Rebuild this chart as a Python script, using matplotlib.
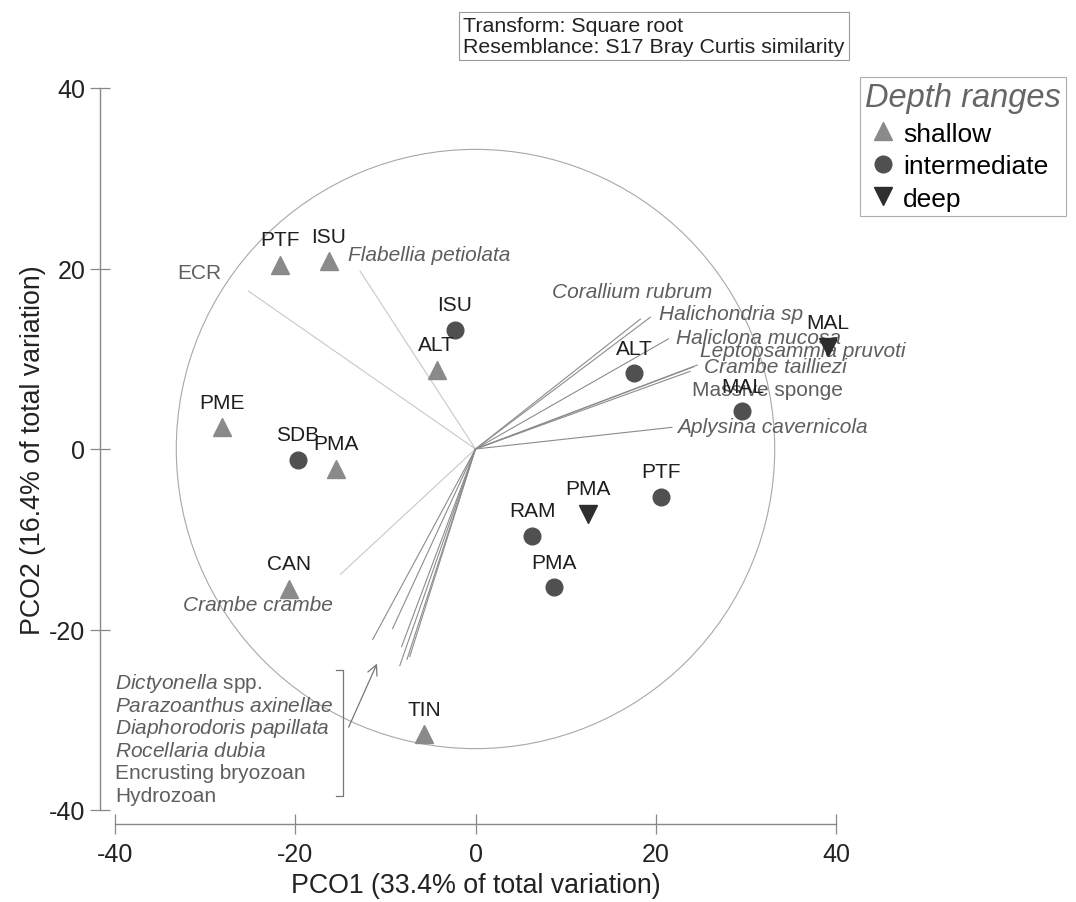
import matplotlib
matplotlib.use('Agg')
import matplotlib.pyplot as plt
from matplotlib.patches import Circle
from matplotlib.lines import Line2D

plt.rcParams['font.family'] = ['Liberation Sans', 'DejaVu Sans']
plt.rcParams['mathtext.fontset'] = 'custom'
plt.rcParams['mathtext.rm'] = 'Liberation Sans'
plt.rcParams['mathtext.it'] = 'Liberation Sans:italic'
plt.rcParams['axes.unicode_minus'] = False

# sites (PCO1, PCO2) by depth range
shallow_names = ['PTF', 'ISU', 'ALT', 'PME', 'PMA', 'CAN', 'TIN']
shallow_x = [-21.7, -16.3, -4.3, -28.1, -15.5, -20.7, -5.7]
shallow_y = [20.4, 20.8, 8.8, 2.4, -2.2, -15.5, -31.6]

inter_names = ['ISU', 'SDB', 'ALT', 'MAL', 'PTF', 'RAM', 'PMA']
inter_x = [-2.3, -19.7, 17.6, 29.6, 20.6, 6.3, 8.7]
inter_y = [13.2, -1.2, 8.4, 4.2, -5.3, -9.6, -15.3]

deep_names = ['MAL', 'PMA']
deep_x = [39.1, 12.5]
deep_y = [11.3, -7.2]

# species vectors (end points) and label anchors
vec_x = [-25.2, -12.8, 18.3, 19.4, 21.4, 24.6, 24.2, 23.8, 21.8, -15.0,
         -11.4, -9.2, -8.2, -8.4, -7.6, -7.3]
vec_y = [17.5, 19.7, 14.4, 14.6, 12.2, 9.3, 9.1, 8.6, 2.4, -13.9,
         -21.1, -19.9, -21.9, -24.0, -23.3, -23.0]
vec_faint = [True, True, False, False, False, False, False, False, False, True,
             False, False, False, False, False, False]

vec_labels = ['ECR', 'Flabellia petiolata', 'Corallium rubrum', 'Halichondria sp',
              'Haliclona mucosa', 'Leptopsammia pruvoti', 'Crambe tailliezi',
              'Massive sponge', 'Aplysina cavernicola', 'Crambe crambe']
vec_italic = [False, True, True, True, True, True, True, False, True, True]
lab_x = [-33.1, -14.2, 8.5, 20.4, 22.3, 24.9, 25.3, 24.0, 22.4, -32.5]
lab_y = [19.6, 21.6, 17.5, 15.0, 12.4, 10.9, 9.1, 6.6, 2.5, -17.2]

group_labels = ['$\\it{Dictyonella}$ spp.', '$\\it{Parazoanthus\\ axinellae}$',
                '$\\it{Diaphorodoris\\ papillata}$', '$\\it{Rocellaria\\ dubia}$',
                'Encrusting bryozoan', 'Hydrozoan']

c_shallow = '#8a8a8a'
c_inter = '#505050'
c_deep = '#2e2e2e'
c_site = '#1e1e1e'
c_spec = '#5e5e5e'
c_line = '#8c8c8c'
c_faint = '#c8c8c8'

fig = plt.figure(figsize=(10.76, 9.03), dpi=100)
ax = fig.add_axes([115 / 1076, 92 / 903, 721 / 1076, 722 / 903])
ax.set_xlim(-40, 40)
ax.set_ylim(-40, 40)

ax.add_patch(Circle((0, 0), 33.2, fill=False, ec='#a8a8a8', lw=0.8))

for vx, vy, fa in zip(vec_x, vec_y, vec_faint):
    ax.plot([0, vx], [0, vy], color=c_faint if fa else c_line, lw=0.8, zorder=1)

for t, it, lx, ly in zip(vec_labels, vec_italic, lab_x, lab_y):
    ax.text(lx, ly, t, fontsize=15, color=c_spec, ha='left', va='center',
            style='italic' if it else 'normal')

g_top = -25.9
for i, t in enumerate(group_labels):
    ax.text(-40, g_top - 2.5 * i, t, fontsize=15, color=c_spec, ha='left', va='center')

# bracket and arrow for grouped vectors
ax.plot([-15.5, -14.7, -14.7, -15.5], [-24.5, -24.5, -38.4, -38.4], color='#777777', lw=0.9)
ax.annotate('', xy=(-10.8, -23.5), xytext=(-14.2, -31.1),
            arrowprops=dict(arrowstyle='->', color='#777777', lw=0.9, mutation_scale=18))

ax.plot(shallow_x, shallow_y, '^', color=c_shallow, ms=13, ls='none', zorder=3)
ax.plot(inter_x, inter_y, 'o', color=c_inter, ms=12, ls='none', zorder=3)
ax.plot(deep_x, deep_y, 'v', color=c_deep, ms=13, ls='none', zorder=3)

for names, xs, ys in [(shallow_names, shallow_x, shallow_y),
                      (inter_names, inter_x, inter_y),
                      (deep_names, deep_x, deep_y)]:
    for n, x, y in zip(names, xs, ys):
        ax.annotate(n, (x, y), xytext=(0, 18), textcoords='offset points',
                    ha='center', va='center', fontsize=15, color=c_site)

for s in ['top', 'right']:
    ax.spines[s].set_visible(False)
ax.spines['left'].set_position(('outward', 10.8))
ax.spines['bottom'].set_position(('outward', 10))
for s in ['left', 'bottom']:
    ax.spines[s].set_bounds(-40, 40)
    ax.spines[s].set_color('#888888')
    ax.spines[s].set_linewidth(1.0)
ax.set_xticks([-40, -20, 0, 20, 40])
ax.set_yticks([-40, -20, 0, 20, 40])
ax.tick_params(direction='inout', length=14, width=0.9, color='#888888',
               labelsize=18, labelcolor='#222222')
ax.tick_params(axis='x', pad=6)
ax.tick_params(axis='y', pad=3.5)
ax.set_xlabel('PCO1 (33.4% of total variation)', fontsize=19.3, color='#222222')
ax.set_ylabel('PCO2 (16.4% of total variation)', fontsize=19.3, color='#222222')
ax.xaxis.set_label_coords(0.5, (811 - 886) / 722)
ax.xaxis.label.set_va('center')
ax.yaxis.set_label_coords((33 - 115) / 721, 0.5)
ax.yaxis.label.set_va('center')

handles = [Line2D([], [], marker='^', color=c_shallow, ls='none', ms=13),
           Line2D([], [], marker='o', color=c_inter, ls='none', ms=12),
           Line2D([], [], marker='v', color=c_deep, ls='none', ms=13)]
leg = fig.legend(handles, ['shallow', 'intermediate', 'deep'], loc='upper left',
                 bbox_to_anchor=(860 / 1076, 1 - 78 / 903), fontsize=19,
                 title='Depth ranges', title_fontsize=23.5, frameon=True, fancybox=False,
                 edgecolor='#999999', handlelength=0.4, handletextpad=0.55,
                 labelspacing=0.32, borderpad=0.2, borderaxespad=0)
leg.get_title().set_style('italic')
leg.get_title().set_color('#666666')
leg.get_frame().set_linewidth(0.8)

fig.text(463 / 1076, 1 - 37 / 903,
         'Transform: Square root\nResemblance: S17 Bray Curtis similarity',
         fontsize=15.4, color='#222222', ha='left', va='center', linespacing=1.1,
         bbox=dict(boxstyle='square,pad=0.2', fc='white', ec='#999999', lw=0.8))

fig.savefig('out.png', dpi=100)
